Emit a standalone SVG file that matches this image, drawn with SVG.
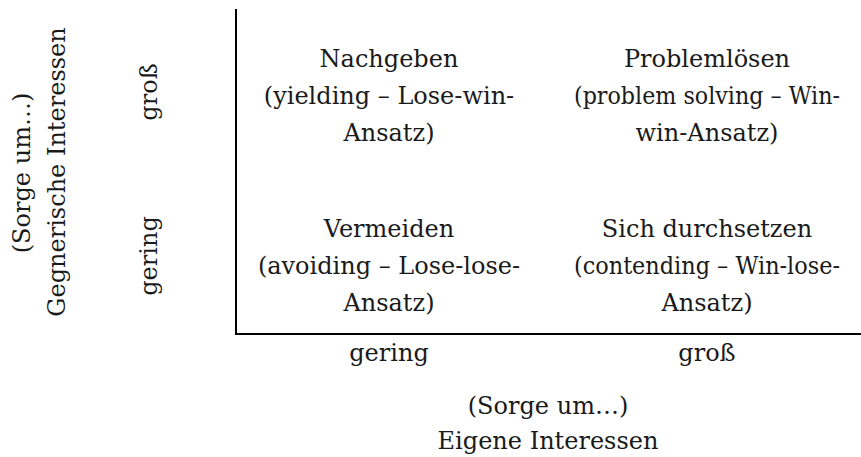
<svg xmlns="http://www.w3.org/2000/svg" width="861" height="457" viewBox="0 0 861 457">
<style>
  text { font-family: "DejaVu Serif", "Liberation Serif", serif; font-size: 24px; fill: #1a1a1a; text-anchor: middle; }
  .axis { stroke: #000; stroke-width: 2; fill: none; }
</style>
<rect width="861" height="457" fill="#fff"/>
<g id="connectors">
  <path class="axis" d="M236 9 V334 H861"/>
</g>
<g id="q-nachgeben">
  <text x="389" y="67">Nachgeben</text>
  <text x="389" y="104">(yielding – Lose-win-</text>
  <text x="389" y="141">Ansatz)</text>
</g>
<g id="q-problemloesen">
  <text x="707" y="67">Problemlösen</text>
  <text x="707" y="104" textLength="266" lengthAdjust="spacingAndGlyphs">(problem solving – Win-</text>
  <text x="707" y="141">win-Ansatz)</text>
</g>
<g id="q-vermeiden">
  <text x="389" y="237">Vermeiden</text>
  <text x="389" y="274">(avoiding – Lose-lose-</text>
  <text x="389" y="311">Ansatz)</text>
</g>
<g id="q-durchsetzen">
  <text x="707" y="237">Sich durchsetzen</text>
  <text x="707" y="274" textLength="266" lengthAdjust="spacingAndGlyphs">(contending – Win-lose-</text>
  <text x="707" y="311">Ansatz)</text>
</g>
<g id="x-axis-labels">
  <text x="389" y="361">gering</text>
  <text x="707" y="361">groß</text>
  <text x="548" y="414">(Sorge um…)</text>
  <text x="548" y="449">Eigene Interessen</text>
</g>
<g id="y-axis-labels">
  <text transform="translate(157 92) rotate(-90)">groß</text>
  <text transform="translate(157 256) rotate(-90)">gering</text>
  <text transform="translate(30 173) rotate(-90)">(Sorge um…)</text>
  <text transform="translate(65 172) rotate(-90)">Gegnerische Interessen</text>
</g>
</svg>
